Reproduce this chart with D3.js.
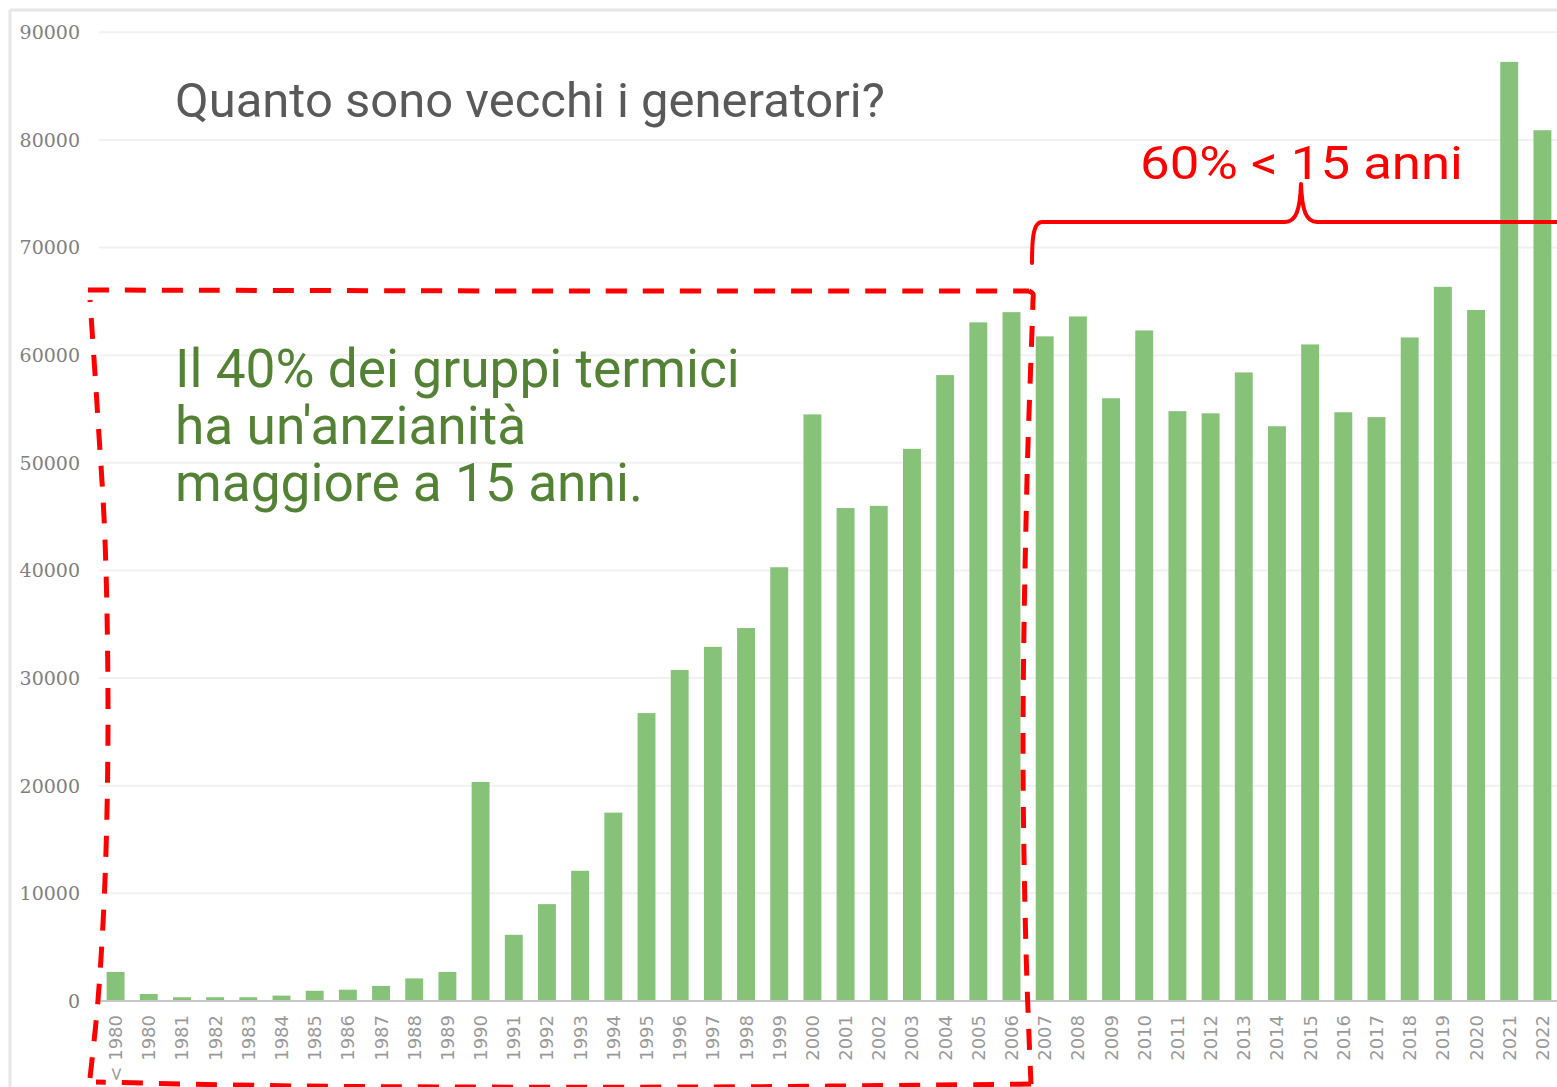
<!DOCTYPE html>
<html lang="it">
<head>
<meta charset="utf-8">
<title>Quanto sono vecchi i generatori?</title>
<script src="https://d3js.org/d3.v7.min.js"></script>
<style>
  body { margin: 0; background: #fff; }
  svg { display: block; }
</style>
</head>
<body>
<div id="chart"></div>
<script>
// data
var categories = ["< 1980", "1980", "1981", "1982", "1983", "1984", "1985", "1986", "1987", "1988", "1989",
  "1990", "1991", "1992", "1993", "1994", "1995", "1996", "1997", "1998", "1999",
  "2000", "2001", "2002", "2003", "2004", "2005", "2006", "2007", "2008", "2009",
  "2010", "2011", "2012", "2013", "2014", "2015", "2016", "2017", "2018", "2019",
  "2020", "2021", "2022"]
var values = [2700, 650, 350, 350, 350, 500, 950, 1050, 1400, 2100, 2700,
  20350, 6150, 9000, 12100, 17500, 26750, 30750, 32900, 34650, 40300,
  54500, 45800, 46000, 51300, 58150, 63050, 64000, 61750, 63600, 56000,
  62300, 54800, 54600, 58400, 53400, 61000, 54700, 54250, 61650, 66350,
  64200, 87250, 80900]
var yTicks = [0, 10000, 20000, 30000, 40000, 50000, 60000, 70000, 80000, 90000]

var title = "Quanto sono vecchi i generatori?"
var noteOld = ["Il 40% dei gruppi termici", "ha un'anzianità", "maggiore a 15 anni."]
var noteNew = "60% < 15 anni"

var w = 1557
var h = 1087

var svg = d3.select("#chart").append("svg")
  .attr("width", w)
  .attr("height", h)

var xScale = d3.scaleBand()
  .domain(categories)
  .range([99, 1559])
  .paddingInner(0.46)
  .paddingOuter(0.23)

var yScale = d3.scaleLinear()
  .domain([0, 90000])
  .range([1001, 32.3])

// frame
svg.append("line").attr("x1", 10).attr("x2", w).attr("y1", 10).attr("y2", 10)
  .attr("stroke", "#e6e6e6").attr("stroke-width", 3)
svg.append("line").attr("x1", 10).attr("x2", 10).attr("y1", 10).attr("y2", h)
  .attr("stroke", "#e6e6e6").attr("stroke-width", 3)

// grid
svg.selectAll(".grid")
  .data(yTicks.slice(1))
  .enter()
  .append("line")
  .attr("class", "grid")
  .attr("x1", 99).attr("x2", w)
  .attr("y1", function(d){ return yScale(d) })
  .attr("y2", function(d){ return yScale(d) })
  .attr("stroke", "#f1f1f1")
  .attr("stroke-width", 2)

// y labels
svg.selectAll(".ylab")
  .data(yTicks)
  .enter()
  .append("text")
  .attr("class", "ylab")
  .attr("x", 80)
  .attr("y", function(d){ return yScale(d) })
  .attr("dy", "0.36em")
  .attr("text-anchor", "end")
  .attr("font-family", "DejaVu Serif")
  .attr("font-size", 19)
  .attr("fill", "#7f7f7f")
  .text(function(d){ return d })

// bars
svg.selectAll(".bar")
  .data(values)
  .enter()
  .append("rect")
  .attr("class", "bar")
  .attr("x", function(d, i){ return xScale(categories[i]) })
  .attr("y", function(d){ return yScale(d) })
  .attr("width", xScale.bandwidth())
  .attr("height", function(d){ return yScale(0) - yScale(d) })
  .attr("fill", "#86c379")

// baseline
svg.append("line").attr("x1", 99).attr("x2", w)
  .attr("y1", yScale(0)).attr("y2", yScale(0))
  .attr("stroke", "#c8c8c8").attr("stroke-width", 2)

// x labels
svg.selectAll(".xlab")
  .data(categories)
  .enter()
  .append("text")
  .attr("class", "xlab")
  .attr("transform", function(d){
    return "translate(" + (xScale(d) + xScale.bandwidth() / 2) + ",1015) rotate(-90)"
  })
  .attr("dy", "0.36em")
  .attr("text-anchor", "end")
  .attr("font-family", "DejaVu Sans")
  .attr("font-size", 18)
  .attr("fill", "#999")
  .text(function(d){ return d })

// squeeze a text to a target width (the source picture is a bit condensed)
function fit(sel, x, y, target){
  var len = sel.node().getComputedTextLength()
  sel.attr("transform", "translate(" + x + "," + y + ") scale(" + (target / len) + ",1)")
}

var t = svg.append("text")
  .attr("font-family", "Roboto").attr("font-size", 48)
  .attr("fill", "#595959")
  .text(title)
fit(t, 175, 117, 710)

var g = svg.append("g")
var lines = [387, 444, 501]
noteOld.forEach(function(s, i){
  g.append("text")
    .attr("x", 0).attr("y", lines[i])
    .attr("font-family", "Roboto").attr("font-size", 54)
    .attr("fill", "#548235")
    .text(s)
})
var len1 = g.select("text").node().getComputedTextLength()
g.attr("transform", "translate(175,0) scale(" + (565 / len1) + ",1)")

var r = svg.append("text")
  .attr("font-family", "Roboto").attr("font-size", 46)
  .attr("fill", "#ff0000")
  .text(noteNew)
fit(r, 1140, 179, 323)

// dashed box round the older units
var line = d3.line().curve(d3.curveCatmullRom)
var boxSides = [
  [[88, 290], [560, 291], [1029, 291]],
  [[1029, 291], [1033, 294], [1033, 300], [1027, 480], [1023, 740], [1026, 950], [1031, 1084]],
  [[1031, 1084], [700, 1087], [300, 1086], [96, 1082]],
  [[90, 1078], [98, 1000], [105, 880], [108, 720], [105, 540], [98, 420], [90, 300]]
]
boxSides.forEach(function(p){
  svg.append("path")
    .attr("d", line(p))
    .attr("fill", "none")
    .attr("stroke", "#ff0000")
    .attr("stroke-width", 5)
    .attr("stroke-dasharray", "21,16")
})

// brace over the newer units
var bp = d3.path()
bp.moveTo(1032, 263)
bp.bezierCurveTo(1032, 240, 1033, 222, 1042, 222)
bp.lineTo(1285, 222)
bp.bezierCurveTo(1296, 222, 1300, 210, 1301, 184)
bp.bezierCurveTo(1302, 210, 1306, 222, 1317, 222)
bp.lineTo(1560, 222)
svg.append("path")
  .attr("d", bp.toString())
  .attr("fill", "none")
  .attr("stroke", "#ff0000")
  .attr("stroke-width", 4)
  .attr("stroke-linecap", "round")
  .attr("stroke-linejoin", "round")
</script>
</body>
</html>
